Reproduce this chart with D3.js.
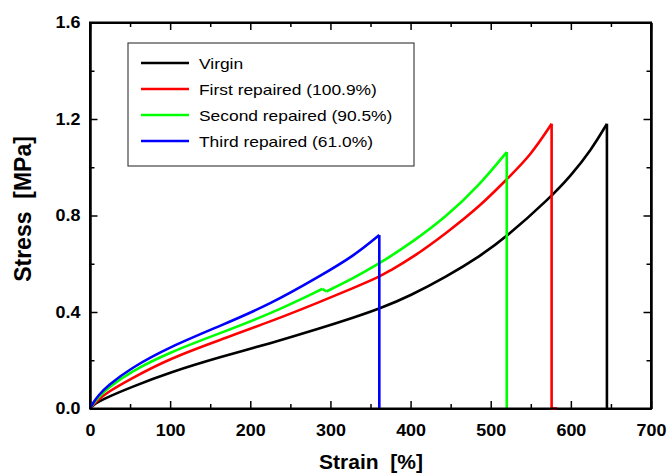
<!DOCTYPE html>
<html>
<head>
<meta charset="utf-8">
<script src="https://cdn.jsdelivr.net/npm/d3@7"></script>
<style>
body { margin: 0; background: #fff; }
svg text { font-family: Arial, "Liberation Sans", sans-serif; fill: #000; }
.axis text { font-weight: bold; font-size: 16px; }
.axis path, .axis line { stroke: #000; }
.axis path { stroke-width: 2px; }
.axis line { stroke-width: 1.5px; }
.title { font-weight: bold; white-space: pre; }
.legend text { font-size: 15px; }
.curve { fill: none; stroke-width: 2.6px; stroke-linejoin: round; }
</style>
</head>
<body>
<div id="chart"></div>
<script>
// tick values
var xTicks = [0, 100, 200, 300, 400, 500, 600, 700];
var xMinor = [50, 150, 250, 350, 450, 550, 650];
var yTicks = [0, 0.4, 0.8, 1.2, 1.6];
var yMinor = [0.2, 0.6, 1.0, 1.4];

// series: [strain %, stress MPa]
var seriesNames = ['Virgin', 'First repaired (100.9%)', 'Second repaired (90.5%)', 'Third repaired (61.0%)'];
var seriesColors = ['#000000', '#ff0000', '#00ff00', '#0000ff'];

var virgin = [[0,0],[4,0.014],[10,0.027],[22,0.047],[50,0.087],[100,0.15],[162,0.213],[225,0.27],[287,0.332],[330,0.378],
    [361,0.413],[400,0.468],[444,0.545],[487,0.632],[520,0.712],[573,0.87],[600,0.965],[625,1.07],[645,1.18]];
var firstRepaired = [[0,0],[4,0.016],[10,0.035],[22,0.068],[50,0.122],[100,0.208],[162,0.284],[225,0.36],[287,0.442],[329,0.5],
    [361,0.546],[374,0.571],[400,0.62],[444,0.725],[487,0.84],[520,0.95],[550,1.05],[576,1.18]];
var secondRepaired = [[0,0],[4,0.02],[10,0.045],[22,0.084],[50,0.152],[100,0.234],[162,0.312],[225,0.392],[287,0.491],[290,0.496]];
var secondRepairedB = [[295,0.485],[329,0.54],[361,0.602],[374,0.629],[400,0.685],[444,0.793],[487,0.93],[520,1.063]];
var thirdRepaired = [[0,0],[4,0.024],[10,0.053],[22,0.094],[50,0.166],[100,0.256],[162,0.342],[225,0.432],[287,0.549],[329,0.632],
    [361,0.719]];

// breaks after the last point
var virginTail = [[645,0]];
var firstTail = [[576,0],[583,0]];
var secondTail = [[520,0]];
var thirdTail = [[361,0]];

var W = 669, H = 474;
var margin = {top: 22.5, right: 18, bottom: 65.5, left: 90};
var width = W - margin.left - margin.right;
var height = H - margin.top - margin.bottom;

var svg = d3.select('#chart').append('svg')
    .attr('width', W)
    .attr('height', H);

var g = svg.append('g')
    .attr('transform', 'translate(' + margin.left + ',' + margin.top + ')');

var x = d3.scaleLinear().domain([0, 700]).range([0, width]);
var y = d3.scaleLinear().domain([0, 1.6]).range([height, 0]);

// minor ticks
g.append('g').attr('class', 'axis')
    .attr('transform', 'translate(0,' + height + ')')
    .call(d3.axisBottom(x).tickValues(xMinor).tickSizeInner(-4.5).tickSizeOuter(0).tickFormat(''));
g.append('g').attr('class', 'axis')
    .call(d3.axisTop(x).tickValues(xMinor).tickSizeInner(-4.5).tickSizeOuter(0).tickFormat(''));
g.append('g').attr('class', 'axis')
    .call(d3.axisLeft(y).tickValues(yMinor).tickSizeInner(-4.5).tickSizeOuter(0).tickFormat(''));
g.append('g').attr('class', 'axis')
    .attr('transform', 'translate(' + width + ',0)')
    .call(d3.axisRight(y).tickValues(yMinor).tickSizeInner(-4.5).tickSizeOuter(0).tickFormat(''));

// major ticks
var xAxis = g.append('g').attr('class', 'axis')
    .attr('transform', 'translate(0,' + height + ')')
    .call(d3.axisBottom(x).tickValues(xTicks).tickSizeInner(-7.5).tickSizeOuter(0).tickPadding(16).tickFormat(d3.format('d')));
xAxis.selectAll('text').attr('transform', 'scale(1.12,1)');
g.append('g').attr('class', 'axis')
    .call(d3.axisTop(x).tickValues(xTicks).tickSizeInner(-7.5).tickSizeOuter(0).tickFormat(''));
var yAxis = g.append('g').attr('class', 'axis')
    .call(d3.axisLeft(y).tickValues(yTicks).tickSizeInner(-7.5).tickSizeOuter(0).tickPadding(8.5).tickFormat(d3.format('.1f')));
yAxis.selectAll('text').attr('transform', 'scale(1.12,1)');
g.append('g').attr('class', 'axis')
    .attr('transform', 'translate(' + width + ',0)')
    .call(d3.axisRight(y).tickValues(yTicks).tickSizeInner(-7.5).tickSizeOuter(0).tickFormat(''));

// curves
var line = d3.line()
    .x(function(d) { return x(d[0]); })
    .y(function(d) { return y(d[1]); })
    .curve(d3.curveBasis);
var straight = d3.line()
    .x(function(d) { return x(d[0]); })
    .y(function(d) { return y(d[1]); });

var curves = [
    {pts: virgin, tail: virginTail, color: seriesColors[0]},
    {pts: firstRepaired, tail: firstTail, color: seriesColors[1]},
    {pts: secondRepaired, tail: null, color: seriesColors[2]},
    {pts: secondRepairedB, tail: secondTail, color: seriesColors[2]},
    {pts: thirdRepaired, tail: thirdTail, color: seriesColors[3]}
];
curves.forEach(function(c) {
    g.append('path').attr('class', 'curve').attr('stroke', c.color).attr('d', line(c.pts));
    if (c.tail) {
        g.append('path').attr('class', 'curve').attr('stroke', c.color)
            .attr('d', straight([c.pts[c.pts.length - 1]].concat(c.tail)));
    }
});
// small kink joining the two green parts
g.append('path').attr('class', 'curve').attr('stroke', seriesColors[2])
    .attr('d', straight([secondRepaired[secondRepaired.length - 1], secondRepairedB[0]]));

// frame
g.append('rect').attr('width', width).attr('height', height)
    .attr('fill', 'none').attr('stroke', '#000').attr('stroke-width', 2);

// legend
var lg = svg.append('g').attr('class', 'legend').attr('transform', 'translate(128,43)');
lg.append('rect').attr('width', 286).attr('height', 123)
    .attr('fill', '#fff').attr('stroke', '#444').attr('stroke-width', 1.2);
seriesNames.forEach(function(name, i) {
    var yy = 20 + i * 26;
    lg.append('line').attr('x1', 13).attr('x2', 61).attr('y1', yy).attr('y2', yy)
        .attr('stroke', seriesColors[i]).attr('stroke-width', 2.6);
    lg.append('text').attr('transform', 'translate(71,' + (yy + 5.5) + ') scale(1.16,1)').text(name);
});

// axis titles
svg.append('text').attr('class', 'title')
    .attr('x', 371).attr('y', 469)
    .attr('text-anchor', 'middle')
    .style('font-size', '21px')
    .text('Strain  [%]');
svg.append('text').attr('class', 'title')
    .attr('transform', 'translate(31,209) rotate(-90)')
    .attr('text-anchor', 'middle')
    .style('font-size', '23px')
    .text('Stress  [MPa]');
</script>
</body>
</html>
